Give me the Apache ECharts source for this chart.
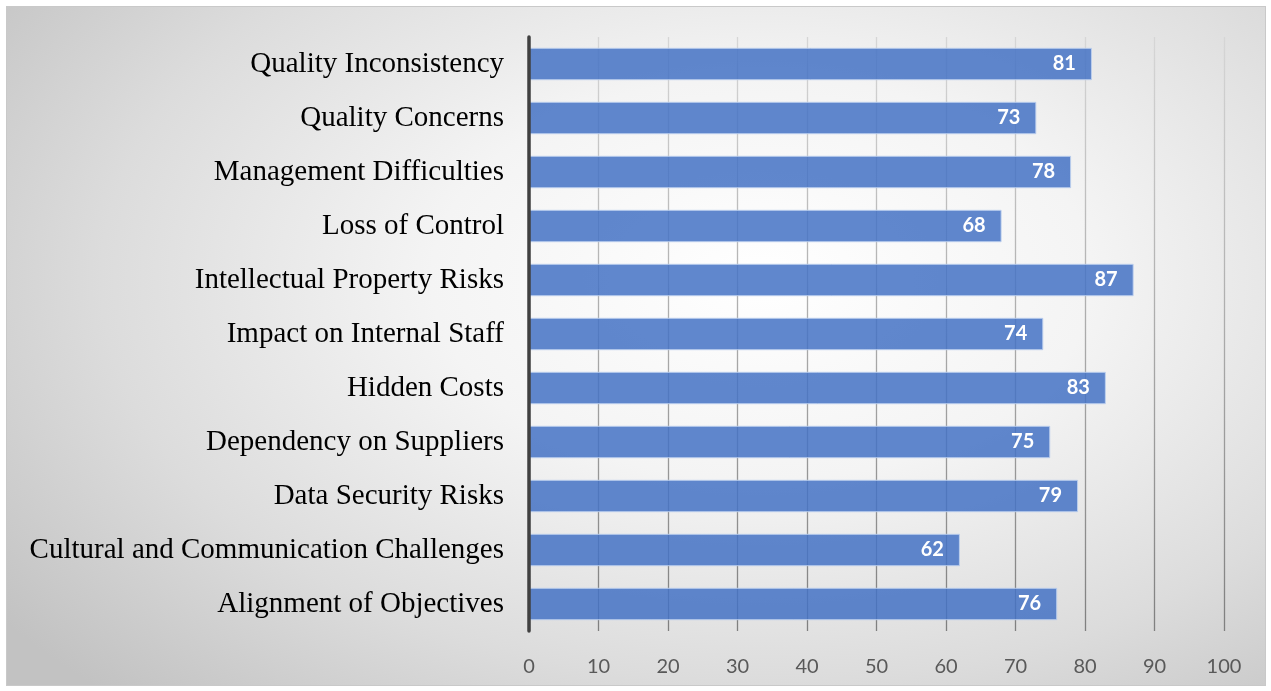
<!DOCTYPE html>
<html>
<head>
<meta charset="utf-8">
<script src="https://cdn.jsdelivr.net/npm/echarts@6/dist/echarts.min.js"></script>
<style>
html,body{margin:0;padding:0;background:#fff;width:1271px;height:691px;overflow:hidden;}
#box{position:absolute;left:6px;top:6px;width:1258px;height:678px;border:1px solid #c9c9c9;
background:radial-gradient(ellipse 75% 85% at 60% 40%, #ffffff 0%, #f4f4f4 35%, #dcdcdc 70%, #c2c2c2 100%);}
#chart{position:absolute;left:0;top:0;width:1271px;height:691px;}
</style>
</head>
<body>
<div id="box"></div>
<div id="chart"></div>
<script>
const categories = [
  "Alignment of Objectives",
  "Cultural and Communication Challenges",
  "Data Security Risks",
  "Dependency on Suppliers",
  "Hidden Costs",
  "Impact on Internal Staff",
  "Intellectual Property Risks",
  "Loss of Control",
  "Management Difficulties",
  "Quality Concerns",
  "Quality Inconsistency"
];
const values = [76, 62, 79, 75, 83, 74, 87, 68, 78, 73, 81];
const xTicks = [0, 10, 20, 30, 40, 50, 60, 70, 80, 90, 100];

const chart = echarts.init(document.getElementById('chart'), null, {renderer: 'canvas'});
chart.setOption({
  backgroundColor: 'transparent',
  animation: false,
  grid: {left: 529, right: 47, top: 37, bottom: 60, containLabel: false},
  xAxis: {
    type: 'value', min: xTicks[0], max: xTicks[xTicks.length - 1], interval: 10,
    axisLine: {show: false}, axisTick: {show: false},
    axisLabel: {color: '#595959', fontFamily: 'Lato, "Open Sans", sans-serif', fontSize: 20, margin: 26,
      formatter: v => xTicks.includes(v) ? String(v) : ''},
    splitLine: {show: true, lineStyle: {width: 1.3, color: {
      type: 'linear', x: 0, y: 37, x2: 0, y2: 633, global: true,
      colorStops: [{offset: 0, color: '#d6d6d6'}, {offset: 1, color: '#7f7f7f'}]}}}
  },
  yAxis: {
    type: 'category', data: categories, z: 10,
    axisLine: {show: true, onZero: false, lineStyle: {color: '#404040', width: 3.5}},
    axisTick: {show: false},
    axisLabel: {color: '#000', fontFamily: '"Liberation Serif", "Times New Roman", serif', fontSize: 29, margin: 25,
      padding: [4, 0, 0, 0]}
  },
  series: [{
    type: 'bar', data: values, barWidth: '60%',
    itemStyle: {color: 'rgba(68,114,196,0.85)', borderColor: 'rgba(190,208,238,0.9)', borderWidth: 1},
    label: {show: true, position: 'insideRight', color: '#fff', fontWeight: 'bold',
      fontFamily: 'Lato, "Open Sans", sans-serif', fontSize: 20, distance: 16},
    z: 3
  }]
});
</script>
</body>
</html>
